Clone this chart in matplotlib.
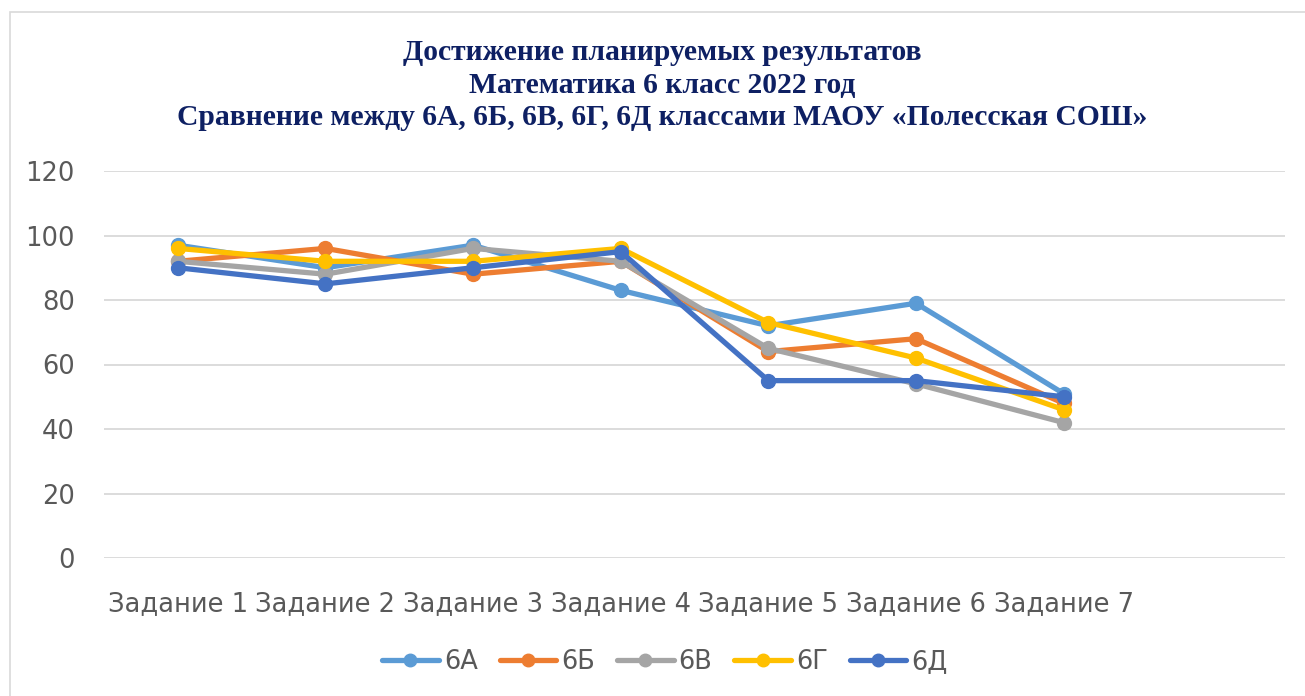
import matplotlib.pyplot as plt
from matplotlib.patches import Rectangle

# Data
categories = ['Задание 1', 'Задание 2', 'Задание 3', 'Задание 4',
              'Задание 5', 'Задание 6', 'Задание 7']
series_names = ['6А', '6Б', '6В', '6Г', '6Д']
values_6a = [97, 90, 97, 83, 72, 79, 51]
values_6b = [92, 96, 88, 92, 64, 68, 48]
values_6v = [92, 88, 96, 92, 65, 54, 42]
values_6g = [96, 92, 92, 96, 73, 62, 46]
values_6d = [90, 85, 90, 95, 55, 55, 50]
y_ticks = [0, 20, 40, 60, 80, 100, 120]

colors = ['#5B9BD5', '#ED7D31', '#A5A5A5', '#FFC000', '#4472C4']
all_values = [values_6a, values_6b, values_6v, values_6g, values_6d]

fig = plt.figure(figsize=(13.05, 6.96), dpi=100)
W, H = 1305, 696

# outer chart border
fig.patches.append(Rectangle((10 / W, -0.01), 1.0, 1 - 12 / H + 0.01,
                             transform=fig.transFigure, fill=False,
                             edgecolor='#D9D9D9', linewidth=1.2))

ax = fig.add_axes([104 / W, 1 - 558 / H, (1285 - 104) / W, (558 - 171) / H])

x = list(range(len(categories)))
for name, vals, c in zip(series_names, all_values, colors):
    ax.plot(x, vals, color=c, linewidth=3.8, marker='o', markersize=10,
            label=name, solid_capstyle='round')

ax.set_ylim(0, 120)
ax.set_xlim(-0.5, 7.5)
ax.set_yticks(y_ticks)
ax.set_xticks(x)
ax.set_xticklabels(categories)
ax.grid(axis='y', color='#D9D9D9', linewidth=1.3)
ax.set_axisbelow(True)
for s in ax.spines.values():
    s.set_visible(False)
ax.tick_params(axis='both', length=0, labelsize=18.5, labelcolor='#595959')
ax.tick_params(axis='y', pad=21)
ax.tick_params(axis='x', pad=24)

title = ('Достижение планируемых результатов\n'
         'Математика 6 класс 2022 год\n'
         'Сравнение между 6А, 6Б, 6В, 6Г, 6Д классами МАОУ «Полесская СОШ»')
fig.text(662 / W, 1 - 85 / H, title, ha='center', va='center',
         fontsize=21.3, fontweight='bold', color='#0E2063',
         family='Liberation Serif', linespacing=1.25)

fig.legend(loc='center', bbox_to_anchor=(665 / W, 1 - 662 / H), ncol=5,
           frameon=False, fontsize=18.5, labelcolor='#595959',
           handlelength=2.2, handletextpad=0.2, columnspacing=0.85,
           markerscale=0.9)

fig.savefig('out.png', dpi=100)
